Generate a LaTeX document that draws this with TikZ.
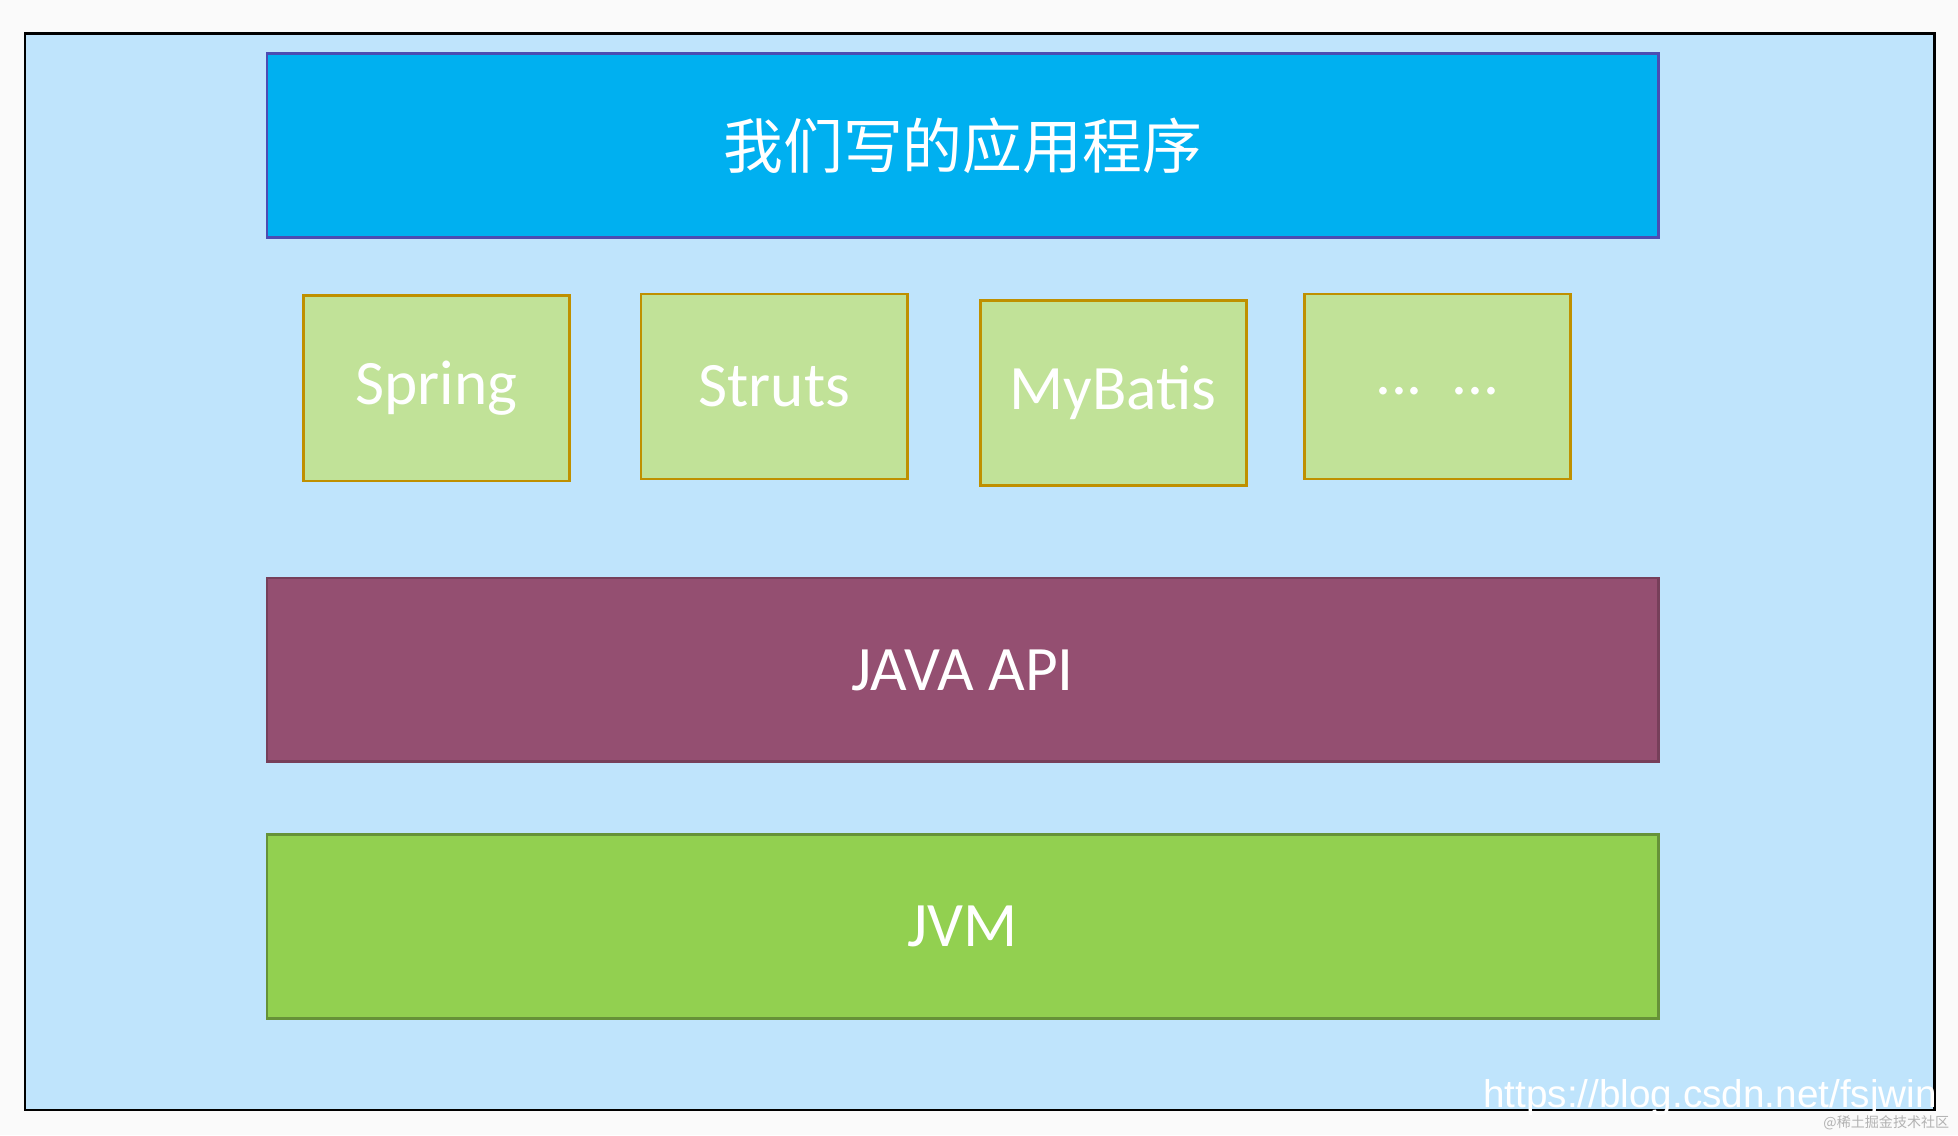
\documentclass[tikz,border=0pt]{standalone}
\usepackage{fontspec}
\setmainfont{Carlito}
\newfontfamily\cjk{Noto Sans CJK SC}
\newfontfamily\wmfont{Liberation Sans}
\definecolor{frameblue}{HTML}{BFE4FC}
\definecolor{topblue}{HTML}{00B0F0}
\definecolor{libgreen}{HTML}{C1E298}
\definecolor{libborder}{HTML}{BF9000}
\definecolor{apiplum}{HTML}{944F71}
\definecolor{jvmgreen}{HTML}{92D050}
\begin{document}
\begin{tikzpicture}[x=0.02497cm,y=-0.02497cm]
\tikzset{
  layer/.style={draw, line width=1.5pt, minimum width=27.82cm, minimum height=3.67cm,
    text=white, font=\fontsize{36}{40}\selectfont},
  lib/.style={draw=libborder, fill=libgreen, line width=1.5pt, minimum width=5.32cm,
    minimum height=3.70cm, text=white, font=\fontsize{36}{40}\selectfont}
}
\useasboundingbox (0,0) rectangle (1568,909);
\fill[white!96!gray] (0,0) rectangle (1568,909);
\draw[fill=frameblue, line width=1.5pt] (20,27) rectangle (1549,889);

\node[layer, draw=blue!40!gray, fill=topblue, font=\cjk\fontsize{34}{40}\selectfont] (app) at (771,116.5) {我们写的应用程序};

% frameworks
\node[lib] (spring) at (349.5,311) {Spring};
\node[lib] (struts) at (620,309.5) {Struts};
\node[lib] (mybatis) at (891.5,314.5) {MyBatis};
\node[lib] (more) at (1151,309.5) {\raisebox{-0.25em}{...\ \ ...}};

\node[layer, draw=apiplum!80!black, fill=apiplum] (api) at (771,536.5) {JAVA API};
\node[layer, draw=jvmgreen!70!black, fill=jvmgreen] (jvm) at (771,742) {JVM};

% watermark
\node[anchor=east, text=white, font=\wmfont\fontsize{22}{26}\selectfont] (wm) at (1556,879) {https://blog.csdn.net/fsjwin};
\node[anchor=east, text=gray!60, font=\cjk\fontsize{8}{10}\selectfont] (wm2) at (1566,899) {@稀土掘金技术社区};
\end{tikzpicture}
\end{document}
